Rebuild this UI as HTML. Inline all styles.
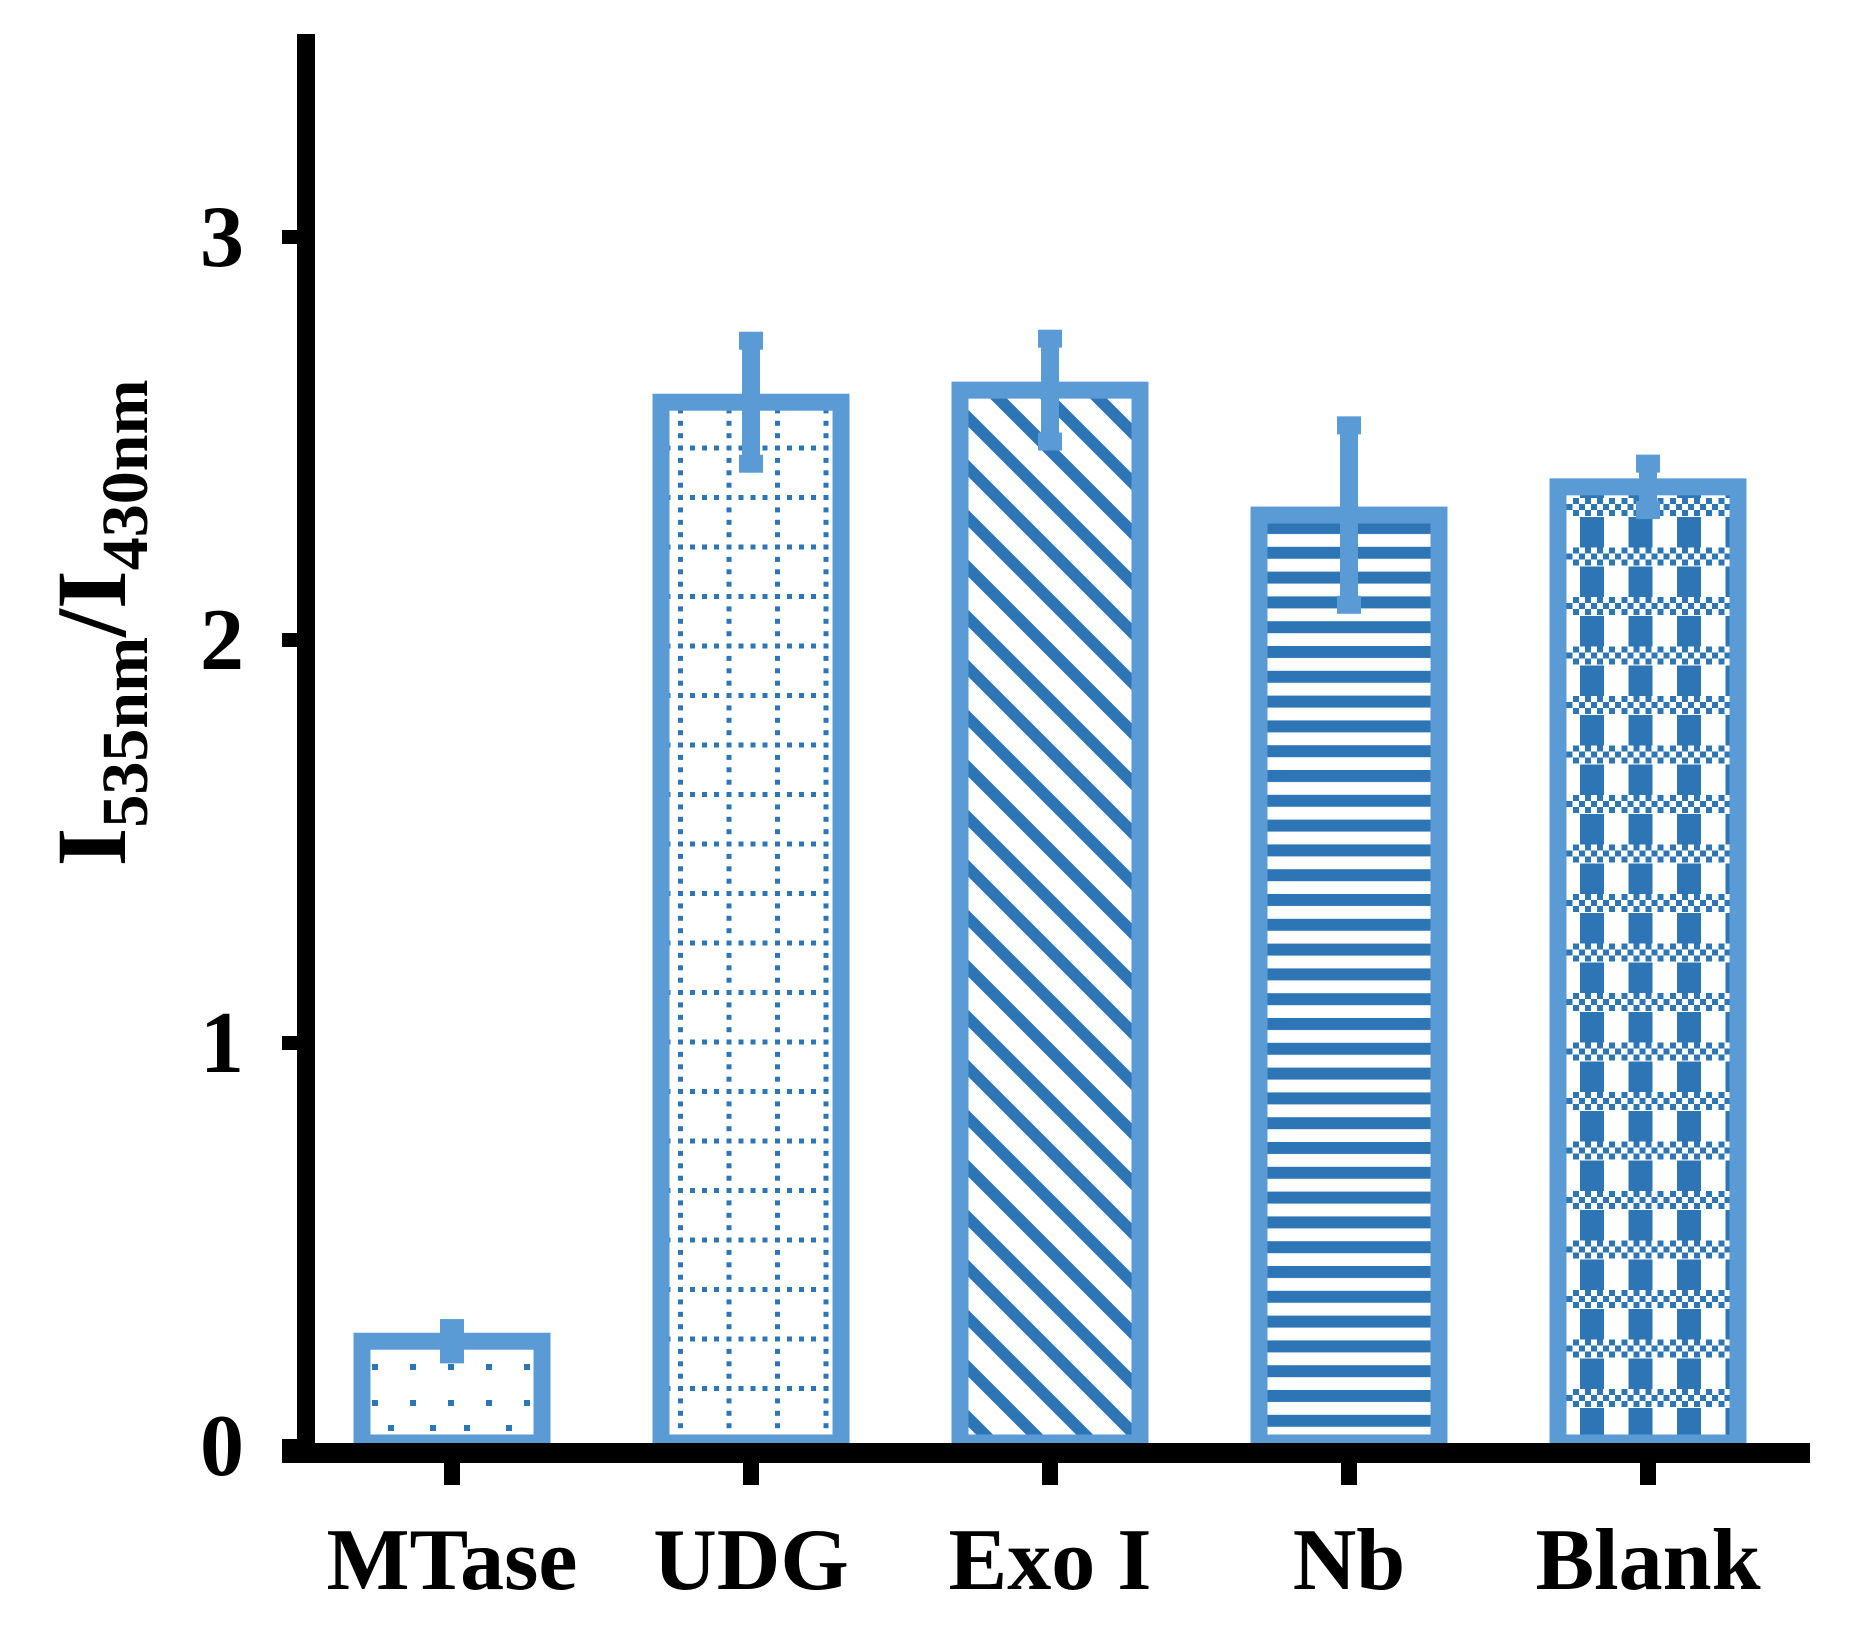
<!DOCTYPE html>
<html><head><meta charset="utf-8"><style>
html,body{margin:0;padding:0;background:#fff}
svg{display:block}
text{font-family:"Liberation Serif",serif;font-weight:bold;fill:#000}
</style></head><body>
<svg id="chart" width="1869" height="1630" viewBox="0 0 1869 1630" xmlns="http://www.w3.org/2000/svg">
<defs>
 <pattern id="p0" patternUnits="userSpaceOnUse" width="76" height="86" x="0" y="0">
  <rect x="30" y="24" width="6" height="6" fill="#2e75b6"/><rect x="68" y="24" width="6" height="6" fill="#2e75b6"/>
  <rect x="8" y="49" width="6" height="6" fill="#2e75b6"/><rect x="50" y="49" width="6" height="6" fill="#2e75b6"/>
  <rect x="30" y="74" width="6" height="6" fill="#2e75b6"/><rect x="68" y="74" width="6" height="6" fill="#2e75b6"/>
 </pattern>
 <pattern id="p1" patternUnits="userSpaceOnUse" width="48.5" height="49.5" x="678" y="0">
  <rect x="0" y="0" width="5" height="5" fill="#2e75b6"/><rect x="12" y="0" width="5" height="5" fill="#2e75b6"/><rect x="24" y="0" width="5" height="5" fill="#2e75b6"/><rect x="36" y="0" width="5" height="5" fill="#2e75b6"/>
  <rect x="0" y="12.4" width="5" height="5" fill="#2e75b6"/><rect x="0" y="24.8" width="5" height="5" fill="#2e75b6"/><rect x="0" y="37.2" width="5" height="5" fill="#2e75b6"/>
 </pattern>
 <pattern id="p2" patternUnits="userSpaceOnUse" width="50" height="50" x="0" y="0">
  <path d="M-10,-10 L60,60 M-10,40 L10,60 M40,-10 L60,10" stroke="#2e75b6" stroke-width="12"/>
 </pattern>
 <pattern id="p3" patternUnits="userSpaceOnUse" width="25" height="24.8" x="0" y="522">
  <rect x="0" y="0" width="25" height="12" fill="#2e75b6"/>
 </pattern>
 <pattern id="p4" patternUnits="userSpaceOnUse" width="48.5" height="49.5" x="1573" y="498">
  <rect x="7" y="19" width="24" height="30.5" fill="#2e75b6"/>
  <g fill="#2e75b6">
   <rect x="0" y="0" width="6" height="6"/><rect x="12" y="0" width="6" height="6"/><rect x="24" y="0" width="6" height="6"/><rect x="36" y="0" width="6" height="6"/>
   <rect x="6" y="6" width="6" height="6"/><rect x="18" y="6" width="6" height="6"/><rect x="30" y="6" width="6" height="6"/><rect x="42" y="6" width="6" height="6"/>
   <rect x="0" y="12" width="6" height="6"/><rect x="12" y="12" width="6" height="6"/><rect x="24" y="12" width="6" height="6"/><rect x="36" y="12" width="6" height="6"/>
  </g>
 </pattern>
</defs>
<g id="bars"></g>
<g id="axes"></g>
<text transform="translate(125,623) rotate(-90)" text-anchor="middle" font-size="100">I<tspan font-size="66" dy="22">535nm</tspan><tspan dy="-22">/I</tspan><tspan font-size="66" dy="22">430nm</tspan></text>
</svg>
<script>
const categories = ["MTase","UDG","Exo I","Nb","Blank"];
const values = [0.26, 2.59, 2.62, 2.31, 2.38];
const errors = [0.05, 0.17, 0.145, 0.24, 0.075];
const yTicks = [0, 1, 2, 3];
const yTickLabels = ["0","1","2","3"];

const NS = "http://www.w3.org/2000/svg";
const y0 = 1446, unit = 403;
const yScale = v => y0 - v * unit;
const xScale = i => 452 + i * 299;
const axisTop = 1443;
function mk(tag, attrs, parent) {
  const e = document.createElementNS(NS, tag);
  for (const k in attrs) e.setAttribute(k, attrs[k]);
  parent.appendChild(e);
  return e;
}
const barsG = document.getElementById('bars');
const axesG = document.getElementById('axes');
const stroke = "#5b9bd5";
categories.forEach((c, i) => {
  const cx = xScale(i), w = 180, yt = yScale(values[i]);
  const g = mk('g', {}, barsG);
  
  
  mk('rect', {x: cx - w/2, y: yt, width: w, height: axisTop - yt, fill: 'url(#p' + i + ')', stroke: stroke, 'stroke-width': 17}, g);
  const eb = mk('g', {fill: stroke}, g);
  
  
  const yh = yScale(values[i] + errors[i]), yl = yScale(values[i] - errors[i]);
  mk('rect', {x: cx - 9, y: yh, width: 18, height: yl - yh}, eb);
  mk('rect', {x: cx - 12, y: yh - 2, width: 24, height: 18}, eb);
  mk('rect', {x: cx - 12, y: yl - 16, width: 24, height: 18}, eb);
});
const ya = mk('rect', {x: 297, y: 34, width: 18, height: 1429, fill: '#000'}, axesG);


const xa = mk('rect', {x: 282, y: 1443, width: 1528, height: 20, fill: '#000'}, axesG);


yTicks.forEach((t, i) => {
  const y = yScale(t);
  const tk = mk('rect', {x: 282, y: y - 7, width: 20, height: 14, fill: '#000'}, axesG);
  
  
  const lb = mk('text', {x: 222, y: y + 29, 'text-anchor': 'middle', 'font-size': 88}, axesG);
  lb.textContent = yTickLabels[i];
  
  
});
categories.forEach((c, i) => {
  const cx = xScale(i);
  const tk = mk('rect', {x: cx - 8, y: 1459, width: 16, height: 26, fill: '#000'}, axesG);
  
  
  const lb = mk('text', {x: cx, y: 1589, 'text-anchor': 'middle', 'font-size': 88}, axesG);
  lb.textContent = c;
  
  
});
</script>
</body></html>
